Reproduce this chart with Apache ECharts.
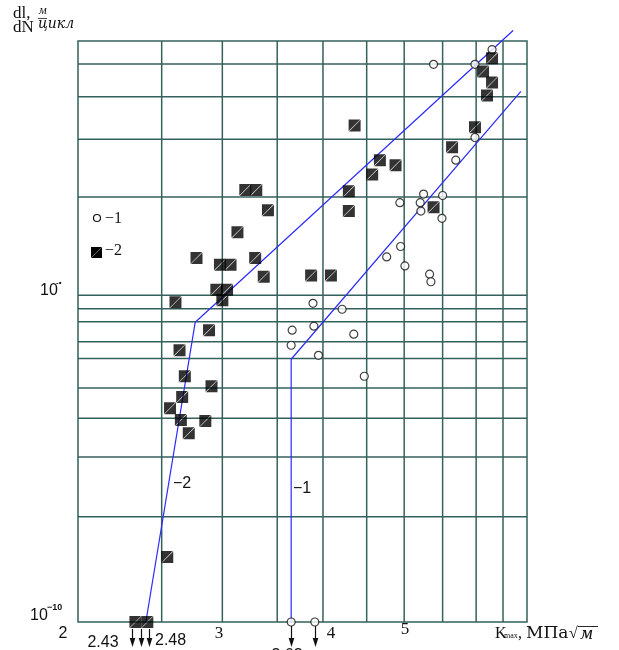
<!DOCTYPE html>
<html><head><meta charset="utf-8">
<script src="https://cdn.jsdelivr.net/npm/echarts@6/dist/echarts.min.js"></script>
<style>html,body{margin:0;padding:0;background:#fff}#c{width:619px;height:650px}</style>
</head><body><div id="c"></div>
<script>
// ---- data (K_max in MPa·√m, crack growth rate dl/dN in m/cycle) ----
const xMin = 2, xMax = 7.06, yMin = 1e-10, yMax = 6e-9;
const xGridValues = [2.53, 3.0, 3.5, 3.98, 4.5, 5.0, 5.57, 6.12, 6.6];
const yGridValues = [2.1e-10, 3.2e-10, 4.2e-10, 5.2e-10, 6.4e-10, 7.2e-10, 8.3e-10, 9.1e-10, 1e-9, 2e-9, 3e-9, 4.05e-9, 5.1e-9];

const series1K = [5.43, 6.10, 6.40, 6.10, 5.78, 4.94, 5.28, 5.23, 5.24, 5.57, 5.56, 4.95, 4.76, 5.01, 5.37, 5.39, 3.87, 4.20, 3.65, 3.88, 4.34, 3.64, 3.93, 4.47, 3.64, 3.89];
const series1Rate = [5.09e-9, 5.09e-9, 5.65e-9, 3.04e-9, 2.59e-9, 1.92e-9, 2.04e-9, 1.92e-9, 1.81e-9, 2.02e-9, 1.72e-9, 1.41e-9, 1.31e-9, 1.23e-9, 1.16e-9, 1.10e-9, 9.45e-10, 9.06e-10, 7.82e-10, 8.04e-10, 7.60e-10, 7.03e-10, 6.55e-10, 5.65e-10, 1e-10, 1e-10];

const series2K = [2.63, 2.79, 3.13, 3.20, 3.30, 3.41, 2.98, 3.07, 3.29, 3.37, 2.95, 3.04, 3.00, 2.89, 2.66, 2.70, 2.91, 2.68, 2.59, 2.67, 2.86, 2.73, 2.57, 2.35, 2.43, 3.85, 4.07, 4.28, 4.28, 4.35, 4.57, 4.67, 4.88, 5.43, 5.72, 6.10, 6.31, 6.24, 6.40, 6.40];
const series2Rate = [9.52e-10, 1.30e-9, 1.56e-9, 2.10e-9, 2.10e-9, 1.82e-9, 1.24e-9, 1.24e-9, 1.30e-9, 1.14e-9, 1.04e-9, 1.04e-9, 9.65e-10, 7.82e-10, 6.79e-10, 5.65e-10, 5.27e-10, 4.88e-10, 4.51e-10, 4.15e-10, 4.12e-10, 3.78e-10, 1.58e-10, 1e-10, 1e-10, 1.15e-9, 1.15e-9, 2.08e-9, 1.81e-9, 3.31e-9, 2.34e-9, 2.59e-9, 2.50e-9, 1.86e-9, 2.84e-9, 3.27e-9, 4.09e-9, 4.84e-9, 4.48e-9, 5.31e-9];

const line1K = [3.64, 3.64, 6.94];
const line1Rate = [1e-10, 6.37e-10, 4.21e-9];
const line2K = [2.42, 2.78, 6.79];
const line2Rate = [1e-10, 8.27e-10, 6.46e-9];

const squareArrowK = [2.33, 2.39, 2.44];
const circleArrowK = [3.64, 3.89];

const xTickLabels = ['2', '3', '4', '5'];
const extraXLabels = ['2.43', '2.48', '3.63'];

// ---- chart ----
const zip = (a, b) => a.map((v, i) => [v, b[i]]);
const gridColor = '#35615c';
const squareSymbol = 'path://M0,0L9.7,0L0,9.7Z M10,0.3L10,10L0.3,10Z';
const chart = echarts.init(document.getElementById('c'), null, {renderer: 'canvas'});
const hiddenAxis = {
  axisLine: {show: false}, axisTick: {show: false}, axisLabel: {show: false},
  splitLine: {show: false}, minorTick: {show: false}, minorSplitLine: {show: false}
};
const gridLineSeries = (pts) => ({type: 'line', data: pts, symbol: 'none', silent: true, z: 1, clip: false,
  lineStyle: {color: gridColor, width: 1.5}, emphasis: {disabled: true}, tooltip: {show: false}});
const series = [];
xGridValues.forEach(v => series.push(gridLineSeries([[v, yMin], [v, yMax]])));
yGridValues.forEach(v => series.push(gridLineSeries([[xMin, v], [xMax, v]])));
series.push(
  {name: 'line1', type: 'line', data: zip(line1K, line1Rate), symbol: 'none', clip: false, z: 3,
   lineStyle: {color: '#2a2aff', width: 1.2}},
  {name: 'line2', type: 'line', data: zip(line2K, line2Rate), symbol: 'none', clip: false, z: 3,
   lineStyle: {color: '#2a2aff', width: 1.2}},
  {name: '1', type: 'scatter', data: zip(series1K, series1Rate), symbol: 'circle', symbolSize: 8, clip: false, z: 5,
   itemStyle: {color: '#fff', borderColor: '#111', borderWidth: 1.2}},
  {name: '2', type: 'scatter', data: zip(series2K, series2Rate), symbol: squareSymbol, symbolSize: 12, clip: false, z: 6,
   itemStyle: {color: '#000'}}
);
chart.setOption({
  animation: false,
  grid: {left: 78, right: 92, top: 41, bottom: 28, show: true, borderColor: gridColor, borderWidth: 1.5, backgroundColor: 'transparent'},
  xAxis: Object.assign({type: 'log', logBase: 10, min: xMin, max: xMax}, hiddenAxis),
  yAxis: Object.assign({type: 'log', logBase: 10, min: yMin, max: yMax}, hiddenAxis),
  series
});

// ---- annotations ----
const T = (text, x, y, font, align) => ({type: 'text', silent: true, z: 100,
  style: {text, x, y, font, fill: '#111', align: align || 'left', verticalAlign: 'middle'}});
const L = (x1, y1, x2, y2, stroke, w) => ({type: 'line', silent: true, z: 100,
  shape: {x1, y1, x2, y2}, style: {stroke: stroke || '#111', lineWidth: w || 1.2}});
const serif = '"Liberation Serif", "DejaVu Serif", serif';
const sans = '"Liberation Sans", "DejaVu Sans", sans-serif';

const g = [];
// title
g.push(T('dl,', 13, 14, '17px ' + serif));
g.push(T('dN', 13, 28, '17px ' + serif));
g.push(T('м', 39, 11, 'italic 12px ' + serif));
g.push(L(38, 18.5, 47, 18.5, '#222', 0.8));
g.push(T('цикл', 38, 24, 'italic 14px "DejaVu Serif", serif'));
// legend
g.push({type: 'circle', silent: true, z: 100, shape: {cx: 97, cy: 218, r: 3.5}, style: {fill: '#fff', stroke: '#111', lineWidth: 1.2}});
g.push(T('−1', 105, 219, '16px ' + serif));
g.push({type: 'rect', silent: true, z: 100, shape: {x: 91, y: 247, width: 11, height: 11}, style: {fill: '#000'}});
g.push(L(91, 258, 102, 247, '#8a8a8a', 0.7));
g.push(T('−2', 105, 251, '16px ' + serif));
// y labels
g.push(T('10', 30, 616, '16px ' + sans));
g.push(T('−10', 47, 608, 'bold 9px ' + sans));
g.push(T('10', 40, 291, '16px ' + sans));
g.push(T('-•', 56, 283, 'bold 8px ' + sans));
// x labels
g.push(T(xTickLabels[0], 63, 634, '16px ' + sans, 'center'));
g.push(T(xTickLabels[1], 219, 634, '17px ' + serif, 'center'));
g.push(T(xTickLabels[2], 331, 634, '17px ' + serif, 'center'));
g.push(T(xTickLabels[3], 405, 630, '17px ' + serif, 'center'));
g.push(T(extraXLabels[0], 103, 643, '16px ' + sans, 'center'));
g.push(T(extraXLabels[1], 155, 641, '16px ' + sans));
g.push(T(extraXLabels[2], 287, 656, '16px ' + sans, 'center'));
// axis title: K max, МПа √м
g.push(T('K', 495, 634, '16px ' + serif));
g.push(T('max', 504, 636, '8px ' + serif));
g.push(T(',', 518, 634, '16px ' + serif));
g.push(T('МПа', 526, 634, '17px "DejaVu Serif", serif'));
g.push(T('√', 569, 634, '16px ' + serif));
g.push(T('м', 580, 635, 'italic 16px "DejaVu Serif", serif'));
g.push(L(578, 626.5, 598, 626.5, '#111', 0.9));
// curve labels
g.push(T('−2', 173, 484, '16px ' + sans));
g.push(T('−1', 293, 489, '16px ' + sans));

// arrows below the axis, positioned through the axes
const arrow = (k, gap) => {
  const p = chart.convertToPixel({gridIndex: 0}, [k, yMin]);
  const x = Math.round(p[0]) + 0.5, y0 = p[1] + gap, tip = p[1] + 25;
  g.push(L(x, y0, x, tip - 6, '#111', 1.2));
  g.push({type: 'polygon', silent: true, z: 100, shape: {points: [[x - 2.8, tip - 9], [x + 2.8, tip - 9], [x, tip]]}, style: {fill: '#111'}});
};
squareArrowK.forEach(k => arrow(k, 7));
circleArrowK.forEach(k => arrow(k, 4));
chart.setOption({graphic: g});
</script></body></html>
